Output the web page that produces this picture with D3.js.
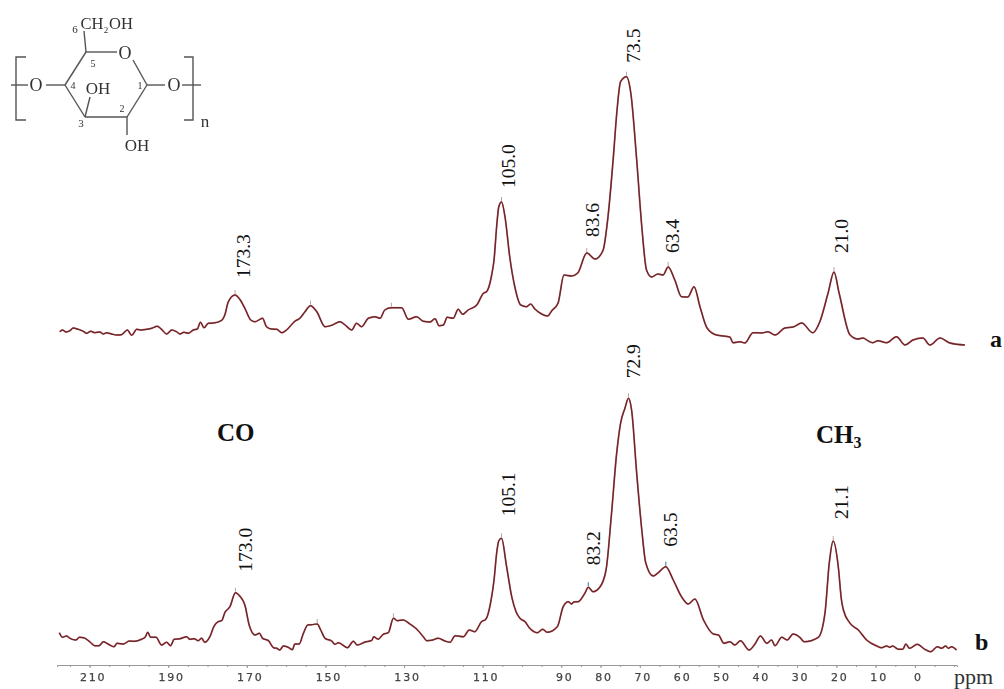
<!DOCTYPE html>
<html>
<head>
<meta charset="utf-8">
<script src="https://d3js.org/d3.v7.min.js"></script>
<style>
  html, body { margin: 0; padding: 0; background: #fff; }
  text { font-family: "Liberation Serif", serif; fill: #111; }
  .axis text { font-family: "DejaVu Sans", sans-serif; font-size: 11px; fill: #444; stroke: #444; stroke-width: .25px; letter-spacing: 1.8px; }
  .axis path, .axis line { stroke: #999; }
</style>
</head>
<body>
<svg id="chart" width="1004" height="689"></svg>
<script>
// spectrum a, ppm vs intensity
var ppmA = [217.6,216.9,216.0,215.0,214.2,212.9,211.6,210.8,209.7,208.7,207.4,206.5,205.7,204.4,203.1,201.9,200.4,199.3,198.0,196.8,195.5,194.2,192.8,191.7,190.4,189.1,187.9,187.0,186.0,184.9,183.6,182.6,181.8,180.9,179.8,178.5,176.4,175.6,174.7,173.0,171.8,170.5,169.0,167.9,166.0,165.0,163.7,162.4,161.1,159.9,157.8,156.5,155.2,153.8,152.2,150.1,148.4,146.3,145.0,143.3,142.1,140.8,139.1,137.4,136.1,134.9,133.2,130.6,128.9,126.8,125.1,123.4,122.1,121.1,120.0,119.0,117.5,116.2,115.1,113.7,111.5,109.8,109.0,107.7,107.1,106.4,105.9,105.2,104.3,103.1,101.8,100.3,98.8,97.8,96.7,95.0,93.5,92.4,90.8,89.3,87.4,85.8,83.5,81.4,79.4,78.1,76.8,75.8,74.9,73.4,72.3,70.8,69.5,68.3,67.0,65.4,64.1,62.8,61.1,59.4,57.8,56.2,54.7,52.9,50.5,47.1,46.3,44.5,43.3,41.2,39.0,37.4,35.6,33.1,31.0,28.8,26.0,24.2,22.1,20.6,19.3,16.5,14.5,13.2,12.0,10.7,9.4,7.2,4.7,2.5,0.5,-2.0,-3.8,-6.4,-8.9,-12.7];
var intA = [18.3,20,18,19.3,22,20.7,18.7,16.7,18.7,17.3,18,16,17.3,16,15,15.3,20,14.7,20.7,20,20.7,21.7,23.7,20.7,16,20,18.3,16,17.7,16.7,20,21,27.7,22.3,26.7,27,29.7,35,48.3,55,50.7,41.7,30,28.3,31.7,23.3,21,20.7,17.3,20,28.7,31.7,38.3,44.3,38.3,23.3,24.7,28.3,25,20,26.7,23.3,31.7,33.3,31.7,40,42.3,42.3,30.7,33.3,28.7,28,31.3,24.3,25,32.7,31.7,40.7,35.7,40,45,56.7,58.3,75,90,125,143,148,133,93,63,45,43.3,46,41,36,34,39.3,47,75,74,77,97,91,99.3,133.3,190,240,268.3,273.3,257,190,123.3,80,73,76,75,83,70,53.3,53,63.3,43.3,22,15,13,7.3,8.3,7,17.3,17,18.3,15,22,23,27,17.3,28.3,57,78,57,15,11,12,9.3,7.3,9.3,7.3,13.3,5,10,12,5,12,7,5];

// spectrum b
var ppmB = [217.7,216.9,215.9,215.0,213.5,212.6,211.5,209.9,208.7,207.6,206.5,205.3,203.8,203.0,201.4,199.9,198.5,196.8,195.9,195.2,194.5,193.1,191.7,190.4,189.4,188.5,187.0,185.3,184.5,183.4,182.4,181.5,180.7,179.4,178.4,177.3,176.4,175.6,174.3,172.9,171.8,170.5,169.4,167.9,166.8,166.0,164.5,163.2,162.4,161.6,160.7,159.5,158.4,157.8,156.7,155.6,154.5,153.5,152.1,151.2,150.1,148.4,147.6,146.7,144.4,142.9,141.9,139.9,138.2,137.7,136.6,135.3,134.0,132.7,131.7,130.2,128.5,126.8,125.1,124.2,123.0,121.3,119.6,118.3,117.0,114.9,113.4,112.0,110.3,109.2,108.0,107.1,106.4,105.9,105.2,103.9,102.6,101.5,100.5,99.2,98.0,96.1,94.7,93.6,91.0,89.5,88.2,87.4,86.8,85.7,84.0,83.1,81.9,80.2,78.6,77.2,75.9,74.9,73.8,72.9,72.1,70.8,69.5,68.5,66.6,65.3,63.4,61.5,59.4,57.7,56.0,53.8,51.3,50.0,48.6,47.1,45.8,44.4,42.2,40.7,39.3,37.7,36.5,35.6,33.9,32.5,31.0,29.3,28.2,24.6,22.9,21.8,20.8,19.5,18.7,18.2,16.5,14.4,12.3,9.7,8.5,7.2,6.4,5.7,4.2,3.1,2.3,1.4,-0.6,-2.5,-4.0,-5.7,-6.8,-7.8,-8.5,-9.3,-10.6];
var intB = [22.3,17.7,19,16.7,15,17.7,17.3,13,9.3,9.3,13.3,11,8.3,11.7,11,14,13.7,15.7,17.7,22.7,17.7,17.7,10,12.7,9.3,15.7,16.3,18.3,15.7,16.3,14.3,16.7,12.7,18.3,28.3,33.3,34.3,42.3,48.3,62.3,59,50,30,20,21.7,16.7,14.3,7.3,6.7,5,9,7.7,5.3,11,11,21.7,30,30.3,31,25,16.7,14,10.7,12.3,7.3,13.7,10,13,14.7,18.3,15.7,20.7,22.3,36.7,34.3,35,31,26,18.3,14.3,14.7,16.7,14,12.7,19.3,18.3,25,23.3,33.3,35.7,51.7,75,103,114,116.7,88.3,58.3,43.3,36.7,33.3,26.7,22.3,25.7,22.7,28.3,48.3,53.3,51,53,53.3,61.7,67.7,63.3,67.7,85,141.7,201.7,231.7,246.7,256.7,245,181.7,125,92.3,79,82.3,88.3,75,58.3,51,56,35,21,20,11.7,13.3,10,14.3,5,11,19,11.7,15,9.3,17.7,15,21,17.7,13.3,17.7,41.7,92,114,88,55,45,31.7,25,15,9,7.3,9,7.7,9,5.7,5.7,11,6.7,10.7,5.7,3.3,8.3,6.7,9,6.7,8.3,5];

// peak labels
var peakLabelsA = ["173.3","105.0","83.6","73.5","63.4","21.0"];
var peakPpmA = [173.0,105.2,83.5,73.4,62.8,20.6];
var peakLabelsB = ["173.0","105.1","83.2","72.9","63.5","21.1"];
var peakPpmB = [172.9,105.2,83.1,72.9,63.4,20.8];
var otherPeaksA = [153.8,133.2];
var otherPeaksB = [152.1,132.7];

var axisLabels = [210,190,170,150,130,110,90,80,70,60,50,40,30,20,10,0];
var axisMinor = d3.range(-10,218,5);

var svg = d3.select("#chart"),
  width = +svg.attr("width"),
  height = +svg.attr("height");

var defs = svg.append("defs");
defs.append("filter").attr("id", "soft").append("feGaussianBlur").attr("stdDeviation", .35);
defs.append("filter").attr("id", "halo").append("feGaussianBlur").attr("stdDeviation", .7);

var x = d3.scaleLinear()
  .domain([218.3, -10.7])
  .range([57, 957]);

var yA = d3.scaleLinear().domain([0, 300]).range([350, 50]);
var yB = d3.scaleLinear().domain([0, 300]).range([655, 355]);

function drawSpectrum(ppm, vals, y) {
  var pts = ppm.map(function (d, i) { return [d, vals[i]]; });
  var line = d3.line()
    .x(function (d) { return x(d[0]); })
    .y(function (d) { return y(d[1]); })
    .curve(d3.curveMonotoneX);
  svg.append("path").attr("d", line(pts)).attr("fill", "none")
    .attr("stroke", "#d98a8a").attr("stroke-width", 2).attr("opacity", .5).attr("filter", "url(#halo)");
  svg.append("path").attr("d", line(pts)).attr("fill", "none")
    .attr("stroke", "#8f2a30").attr("stroke-width", 1.5);
  svg.append("path").attr("d", line(pts)).attr("fill", "none")
    .attr("stroke", "#3a2628").attr("stroke-width", .7).attr("opacity", .75);
}
drawSpectrum(ppmA, intA, yA);
drawSpectrum(ppmB, intB, yB);

// little peak pick ticks
function peakTicks(list, ppm, vals, y, color) {
  var neg = ppm.map(function (v) { return -v; });
  svg.selectAll(null).data(list).enter().append("line")
    .attr("x1", function (d) { return x(d); })
    .attr("x2", function (d) { return x(d); })
    .attr("y1", function (d) { return y(vals[d3.bisectLeft(neg, -d)]) - 1; })
    .attr("y2", function (d) { return y(vals[d3.bisectLeft(neg, -d)]) - 5; })
    .attr("stroke", color).attr("stroke-width", 1);
}
peakTicks(peakPpmA.concat(otherPeaksA), ppmA, intA, yA, "#b9a4a4");
peakTicks(peakPpmB.concat(otherPeaksB), ppmB, intB, yB, "#b9a4a4");
peakTicks([83.1, 63.4], ppmB, intB, yB, "#4a8fc0");

// rotated labels
var labelDx = [15, 14, 12.5, 14, 11, 14.5];
var labelGapA = [17, 14, 16, 14, 14, 19];
var labelDxB = [17, 14, 12, 12, 11, 15];
var labelGapB = [21, 22, 22, 20, 20, 22];

function peakLabels(labels, ppm, pp, vals, y, dx, gap) {
  var neg = pp.map(function (v) { return -v; });
  labels.forEach(function (t, k) {
    var i = d3.bisectLeft(neg, -ppm[k]);
    var px = x(ppm[k]) + dx[k], py = y(vals[i]) - gap[k];
    svg.append("text")
      .attr("transform", "translate(" + px + "," + py + ") rotate(-90)")
      .attr("font-size", 19.5)
      .text(t);
  });
}
peakLabels(peakLabelsA, peakPpmA, ppmA, intA, yA, labelDx, labelGapA);
peakLabels(peakLabelsB, peakPpmB, ppmB, intB, yB, labelDxB, labelGapB);

// axis
svg.append("g").attr("class", "axis")
  .attr("transform", "translate(0,665)")
  .call(d3.axisBottom(x).tickValues(axisMinor).tickSize(2).tickFormat(""));
svg.append("g").attr("class", "axis")
  .attr("transform", "translate(0,665)")
  .call(d3.axisBottom(x).tickValues(axisLabels).tickSize(3).tickPadding(5).tickFormat(d3.format("d")))
  .call(function (g) { g.select(".domain").remove(); })
  .selectAll("text").attr("dx", 3).attr("filter", "url(#soft)");

svg.append("text").attr("x", 954).attr("y", 684).attr("font-size", 22).style("fill", "#333").text("ppm");
svg.append("text").attr("x", 990).attr("y", 347).attr("font-size", 24).attr("font-weight", "bold").text("a");
svg.append("text").attr("x", 975).attr("y", 650).attr("font-size", 24).attr("font-weight", "bold").text("b");
svg.append("text").attr("x", 217).attr("y", 441).attr("font-size", 25).attr("font-weight", "bold").text("CO");
var ch3 = svg.append("text").attr("x", 816).attr("y", 443).attr("font-size", 25).attr("font-weight", "bold");
ch3.append("tspan").text("CH");
ch3.append("tspan").attr("font-size", 16).attr("dy", 5).text("3");

// cellulose-type repeat unit
var bonds = [[86,52,117,52],[133,60,147,85],[147,85,127,117],[127,117,85,117],[85,117,65,85],[65,85,86,52],
  [86,52,84,31],[147,85,165,85],[182,85,201,85],[65,85,46,85],[28,85,11,85],[85,117,90,97],[127,117,127,135]];
var brackets = [[[26,57],[16,57],[16,120],[26,120]],[[184,57],[193,57],[193,120],[184,120]]];
var atoms = [["O",125,59,18],["O",174,91,18],["O",36,91,18],["OH",98,94,17],["OH",137,151,17],["n",205,127,17],
  ["CH",92,29,16.5],["OH",121,29,16.5],["2",106,33,9],["6",75,33,11],["5",93,67,10],["4",73,89,10],["1",140,89,10],["2",122,112,10],["3",81,127,11]];

var mol = svg.append("g").attr("filter", "url(#soft)");
mol.selectAll("line").data(bonds).enter().append("line")
  .attr("x1", function (d) { return d[0]; }).attr("y1", function (d) { return d[1]; })
  .attr("x2", function (d) { return d[2]; }).attr("y2", function (d) { return d[3]; })
  .attr("stroke", "#555").attr("stroke-width", 1.4);
mol.selectAll("path").data(brackets).enter().append("path")
  .attr("d", d3.line()).attr("fill", "none").attr("stroke", "#555").attr("stroke-width", 1.4);
mol.selectAll("text").data(atoms).enter().append("text")
  .attr("x", function (d) { return d[1]; }).attr("y", function (d) { return d[2]; })
  .attr("font-size", function (d) { return d[3]; })
  .attr("text-anchor", "middle").style("fill", "#333")
  .text(function (d) { return d[0]; });
</script>
</body>
</html>
